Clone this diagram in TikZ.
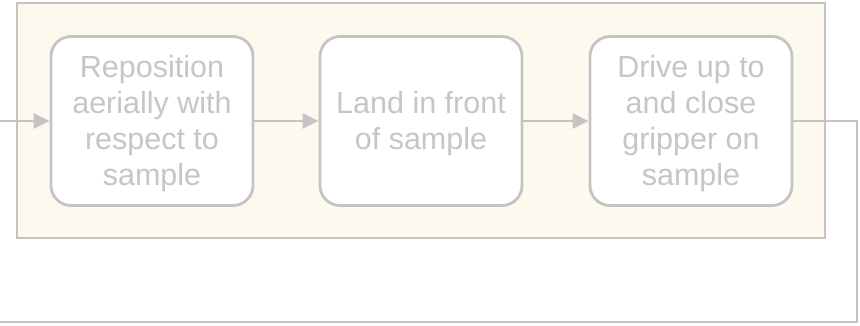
\documentclass[tikz,border=0pt]{standalone}
\usepackage{fontspec}
\setmainfont{Liberation Sans}
\usetikzlibrary{arrows.meta}
\definecolor{linegrey}{HTML}{C4C4C4}
\definecolor{textgrey}{HTML}{C6C6C6}
\definecolor{cream}{HTML}{FEF9EF}
\tikzset{
  steptext/.style={align=center, text=textgrey, font=\fontsize{30.5}{36}\selectfont, inner sep=0pt},
  stepbox/.style={draw=linegrey, line width=2.8pt, fill=white, rounded corners=20pt,
    minimum width=202pt, minimum height=169pt, inner sep=0pt},
  conn/.style={draw=linegrey, line width=2.8pt},
  arr/.style={conn, -{Triangle[length=16pt,width=15pt]}},
}
\begin{document}
\begin{tikzpicture}[x=1pt,y=-1pt]
\useasboundingbox (0,0) rectangle (860,325);
\draw[draw=linegrey, line width=2.8pt, fill=cream] (17,3) rectangle (825,238);
\node[stepbox] (a) at (152,121) {};
\node[stepbox] (b) at (421,121) {};
\node[stepbox] (c) at (691,121) {};
\node[steptext] (ta) at (152,124) {Reposition\\aerially with\\respect to\\sample};
\node[steptext] (tb) at (421,124) {Land in front\\of sample};
\node[steptext] (tc) at (691,124) {Drive up to\\and close\\gripper on\\sample};
\coordinate (in) at (0,121);
\coordinate (r1) at (857,121);
\coordinate (r2) at (857,322);
\coordinate (out) at (0,322);
\draw[arr] (in) -- (a.west);
\draw[arr] (a.east) -- (b.west);
\draw[arr] (b.east) -- (c.west);
\draw[conn] (c.east) -- (r1) -- (r2) -- (out);
\end{tikzpicture}
\end{document}
